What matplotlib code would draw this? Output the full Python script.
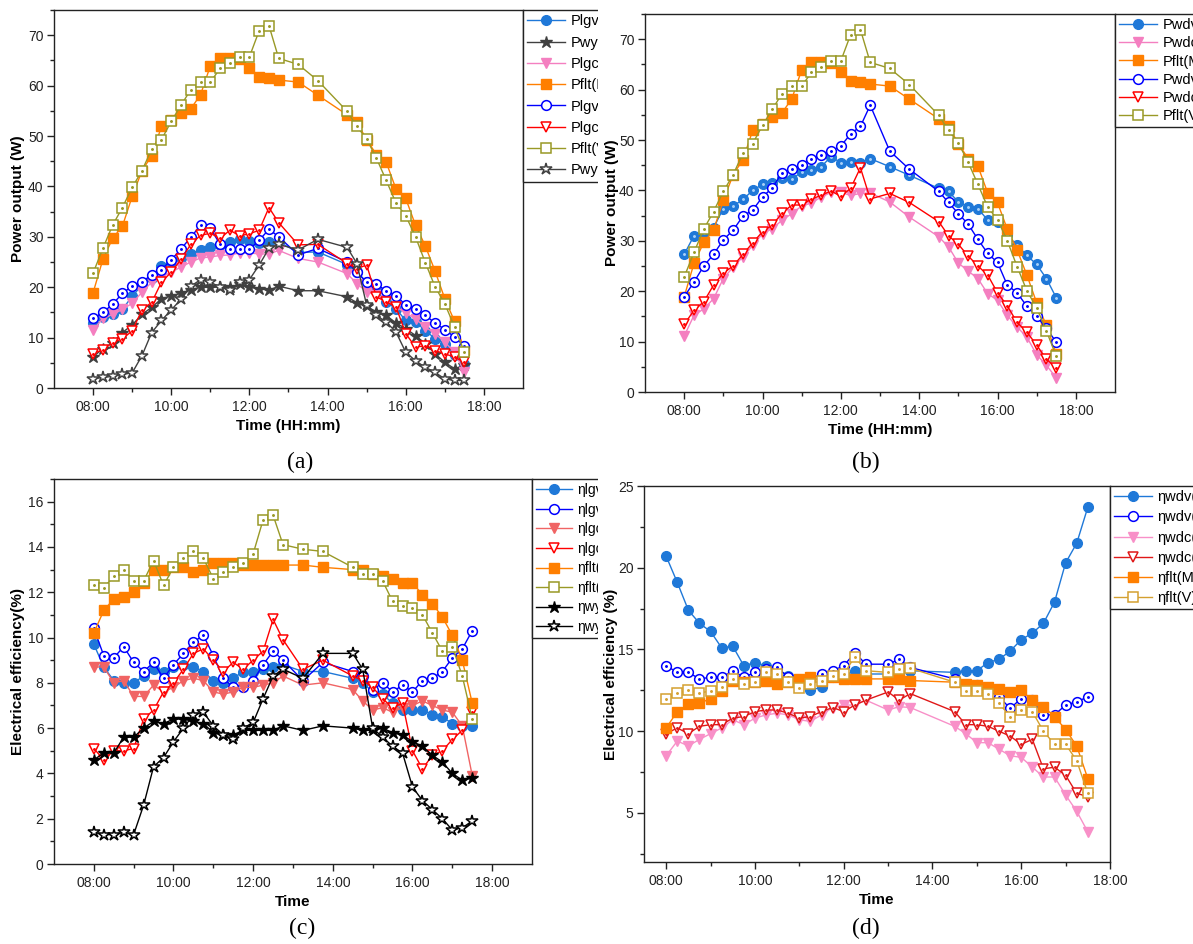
import numpy as np
import matplotlib
matplotlib.use('Agg')
import matplotlib.pyplot as plt
from matplotlib.ticker import MultipleLocator, FixedLocator, FuncFormatter
from matplotlib.patches import Rectangle

plt.rcParams['font.family'] = ['Liberation Sans', 'DejaVu Sans']

# Часові мітки вимірювань (a, b, c)
times_abc = ["08:00", "08:15", "08:30", "08:45", "09:00", "09:15", "09:30", "09:45",
             "10:00", "10:15", "10:30", "10:45", "11:00", "11:15", "11:30", "11:45",
             "12:00", "12:15", "12:30", "12:45", "13:15", "13:45",
             "14:30", "14:45", "15:00", "15:15", "15:30", "15:45", "16:00", "16:15",
             "16:30", "16:45", "17:00", "17:15", "17:30"]
# Часові мітки для (d)
times_d = ["08:00", "08:15", "08:30", "08:45", "09:00", "09:15", "09:30", "09:45",
           "10:00", "10:15", "10:30", "10:45", "11:00", "11:15", "11:30", "11:45",
           "12:00", "12:15", "12:30", "13:00", "13:15", "13:30",
           "14:30", "14:45", "15:00", "15:15", "15:30", "15:45", "16:00", "16:15",
           "16:30", "16:45", "17:00", "17:15", "17:30"]

# (a) потужність, Вт
plgv_m = [12.8, 14.0, 14.7, 15.6, 18.2, 20.4, 21.8, 24.2, 25.0, 25.8, 26.5, 27.3, 28.0, 28.3, 28.9, 29.5,
          29.2, 28.7, 29.0, 29.0, 26.9, 27.0, 24.5, 23.0, 21.0, 19.4, 17.1, 15.7, 13.4, 13.1, 11.4, 9.8,
          8.8, 6.6, 4.8]
pwy_m = [6.2, 7.8, 9.0, 11.0, 12.5, 14.6, 16.0, 17.7, 18.3, 18.8, 19.5, 20.0, 20.0, 20.0, 20.0, 20.6,
         20.0, 19.7, 19.4, 20.2, 19.3, 19.3, 18.1, 16.9, 16.2, 15.1, 14.4, 12.9, 11.8, 10.4, 8.8, 6.8,
         5.1, 3.8, 4.5]
plgc_m = [11.5, 13.8, 14.6, 15.6, 16.8, 19.0, 21.0, 22.0, 23.0, 24.0, 25.0, 25.8, 26.0, 26.3, 26.4, 26.8,
          26.8, 26.6, 26.6, 27.3, 25.7, 25.0, 22.7, 20.7, 19.1, 18.4, 17.4, 16.1, 14.9, 13.7, 12.1, 10.8,
          9.1, 7.1, 3.1]
pflt_m = [18.9, 25.5, 29.7, 32.1, 38.0, 43.1, 46.1, 51.9, 53.1, 54.6, 55.4, 58.2, 63.9, 65.5, 65.5, 65.3,
          63.4, 61.7, 61.5, 61.1, 60.7, 58.1, 54.2, 52.7, 49.3, 46.3, 44.8, 39.5, 37.6, 32.3, 28.2, 23.2,
          17.7, 13.2, 7.6]
plgv_v = [13.8, 15.0, 16.6, 18.8, 20.2, 21.0, 22.5, 23.5, 25.4, 27.6, 29.9, 32.3, 31.7, 28.5, 27.5, 27.5,
          27.5, 29.3, 31.5, 30.0, 26.4, 27.7, 25.0, 23.0, 21.0, 20.7, 19.2, 18.3, 16.5, 15.7, 14.4, 12.9,
          11.6, 10.1, 8.3]
plgc_v = [6.8, 7.6, 9.0, 9.8, 11.3, 15.5, 17.0, 21.0, 23.0, 25.5, 28.5, 30.3, 30.7, 29.7, 31.3, 30.2,
          30.6, 31.3, 35.8, 32.8, 28.4, 28.5, 24.7, 23.7, 24.4, 18.1, 17.1, 16.1, 10.8, 8.1, 8.4, 7.4,
          6.8, 6.1, 5.1]
pflt_v = [22.8, 27.7, 32.3, 35.8, 39.8, 43.1, 47.4, 49.3, 52.9, 56.1, 59.2, 60.7, 60.7, 63.4, 64.4, 65.7,
          65.7, 70.9, 71.9, 65.4, 64.2, 61.0, 54.9, 51.9, 49.4, 45.6, 41.2, 36.7, 34.2, 30.0, 24.9, 20.1,
          16.7, 12.1, 7.1]
pwy_v = [1.8, 2.1, 2.3, 2.7, 3.0, 6.4, 11.0, 13.4, 15.5, 17.6, 20.2, 21.5, 21.0, 20.0, 19.5, 21.0,
         21.5, 24.4, 27.7, 28.5, 27.4, 29.5, 27.9, 24.7, 16.4, 14.4, 13.1, 11.1, 7.1, 5.4, 4.1, 3.1,
         1.8, 1.5, 1.5]

# (b) потужність, Вт
pwdv_m = [27.3, 31.0, 31.6, 32.6, 36.4, 36.9, 38.2, 40.0, 41.2, 41.4, 42.4, 42.2, 43.7, 44.0, 44.7, 46.7,
          45.5, 45.7, 45.5, 46.3, 44.7, 43.0, 40.4, 39.8, 37.7, 36.7, 36.4, 34.1, 33.8, 31.1, 29.1, 27.1,
          25.3, 22.5, 18.7]
pwdc_m = [11.1, 15.2, 16.5, 18.5, 22.5, 24.8, 26.8, 29.1, 31.4, 32.4, 34.1, 35.4, 36.9, 37.5, 38.7, 39.6,
          39.6, 39.0, 39.4, 39.5, 37.7, 34.7, 30.8, 28.8, 25.6, 24.0, 22.5, 19.5, 18.2, 15.2, 12.9, 10.9,
          7.4, 5.3, 2.8]
pwdv_v = [18.9, 21.8, 25.0, 27.3, 30.2, 32.1, 34.9, 36.1, 38.7, 40.5, 43.5, 44.3, 45.0, 46.2, 47.0, 47.8,
          48.8, 51.2, 52.7, 56.9, 47.8, 44.2, 39.8, 37.6, 35.4, 33.3, 30.3, 27.5, 25.7, 21.2, 19.7, 17.0,
          15.0, 12.6, 9.9]
pwdc_v = [13.4, 16.2, 17.9, 21.2, 23.6, 25.0, 27.3, 29.6, 31.8, 33.1, 35.5, 37.1, 37.1, 38.3, 39.0, 39.9,
          38.8, 40.4, 44.5, 38.3, 39.4, 37.6, 33.8, 31.0, 29.3, 27.0, 25.0, 23.2, 19.7, 17.1, 13.8, 11.9,
          9.3, 6.5, 4.8]

# (c) ККД, %
eta_lgv_m = [9.7, 8.7, 8.1, 8.0, 8.0, 8.3, 8.6, 8.5, 8.7, 8.8, 8.7, 8.5, 8.1, 8.0, 8.2, 8.5,
             8.5, 8.6, 8.7, 8.8, 8.5, 8.5, 8.2, 8.0, 7.6, 7.5, 7.1, 6.8, 6.8, 6.8, 6.6, 6.5,
             6.2, 6.1, 6.1]
eta_lgv_v = [10.4, 9.2, 9.1, 9.6, 8.9, 8.5, 8.9, 8.2, 8.8, 9.3, 9.8, 10.1, 9.2, 8.2, 7.8, 7.8,
             8.1, 8.8, 9.4, 9.0, 8.1, 8.9, 8.5, 8.3, 7.7, 8.0, 7.6, 7.9, 7.6, 8.1, 8.2, 8.5,
             9.1, 9.5, 10.3]
eta_lgc_m = [8.7, 8.7, 8.0, 8.1, 7.4, 7.4, 7.9, 7.6, 7.8, 8.1, 8.2, 8.1, 7.6, 7.5, 7.6, 7.8,
             7.8, 7.9, 8.0, 8.3, 7.9, 8.0, 7.7, 7.2, 6.8, 6.9, 6.7, 6.9, 7.0, 7.2, 7.0, 6.8,
             6.7, 6.1, 3.9]
eta_lgc_v = [5.1, 4.6, 5.0, 5.0, 5.1, 6.4, 6.8, 7.6, 8.0, 8.6, 9.3, 9.5, 9.0, 8.5, 8.9, 8.6,
             9.0, 9.4, 10.8, 9.9, 8.6, 9.0, 8.3, 8.1, 7.8, 7.3, 6.9, 7.1, 5.0, 4.2, 4.8, 5.0,
             5.5, 5.9, 6.7]
eta_flt_m = [10.2, 11.2, 11.7, 11.8, 12.0, 12.4, 13.0, 13.0, 13.1, 13.1, 12.9, 13.0, 13.3, 13.3, 13.3, 13.2,
             13.2, 13.2, 13.2, 13.2, 13.2, 13.1, 13.0, 13.0, 12.8, 12.7, 12.6, 12.4, 12.4, 11.9, 11.5, 10.9,
             10.1, 9.0, 7.1]
eta_flt_v = [12.3, 12.2, 12.7, 13.0, 12.5, 12.5, 13.4, 12.3, 13.1, 13.5, 13.8, 13.5, 12.6, 12.9, 13.1, 13.3,
             13.7, 15.2, 15.4, 14.1, 13.9, 13.8, 13.1, 12.8, 12.8, 12.5, 11.6, 11.4, 11.3, 11.0, 10.2, 9.4,
             9.6, 8.3, 6.4]
eta_wy_m = [4.6, 4.9, 4.9, 5.6, 5.6, 6.0, 6.3, 6.2, 6.4, 6.4, 6.3, 6.2, 5.8, 5.7, 5.7, 5.9,
            5.9, 5.9, 5.9, 6.1, 5.9, 6.1, 6.0, 5.9, 5.9, 6.0, 5.8, 5.7, 5.4, 5.2, 4.8, 4.5,
            4.0, 3.7, 3.8]
eta_wy_v = [1.4, 1.3, 1.3, 1.4, 1.3, 2.6, 4.3, 4.7, 5.4, 6.0, 6.6, 6.7, 6.1, 5.7, 5.5, 6.0,
            6.25, 7.3, 8.3, 8.6, 8.2, 9.3, 9.3, 8.6, 6.0, 5.6, 5.2, 4.9, 3.4, 2.8, 2.4, 2.0,
            1.5, 1.6, 1.9]

# (d) ККД, %
eta_wdv_m = [20.7, 19.1, 17.4, 16.6, 16.1, 15.1, 15.2, 14.0, 14.2, 14.0, 13.8, 13.4, 13.1, 12.5, 12.7, 13.3,
             13.4, 13.7, 13.5, 13.5, 13.6, 13.7, 13.6, 13.7, 13.7, 14.2, 14.4, 14.9, 15.6, 16.0, 16.6, 17.9,
             20.3, 21.5, 23.7]
eta_wdv_v = [14.0, 13.6, 13.6, 13.2, 13.3, 13.3, 13.7, 13.3, 13.6, 13.8, 13.9, 13.3, 13.1, 13.2, 13.5, 13.7,
             14.0, 14.8, 14.1, 14.1, 14.4, 13.9, 13.2, 12.8, 12.8, 12.5, 12.1, 11.4, 12.0, 11.9, 11.0, 11.0,
             11.6, 11.8, 12.1]
eta_wdc_m = [8.5, 9.4, 9.1, 9.5, 9.85, 10.2, 10.7, 10.4, 10.8, 11.0, 11.1, 11.0, 10.7, 10.6, 11.0, 11.45,
             11.6, 11.6, 11.9, 11.3, 11.5, 11.45, 10.3, 9.85, 9.3, 9.3, 8.9, 8.5, 8.4, 7.8, 7.2, 7.2,
             6.1, 5.1, 3.85]
eta_wdc_v = [9.85, 10.2, 9.85, 10.3, 10.4, 10.4, 10.8, 10.9, 11.2, 11.3, 11.3, 11.1, 10.8, 10.9, 11.2, 11.45,
             11.2, 11.6, 11.9, 12.4, 11.9, 12.3, 11.2, 10.4, 10.4, 10.3, 10.0, 9.7, 9.2, 9.5, 7.7, 7.8,
             7.3, 6.2, 6.0]
eta_flt_m_d = [10.2, 11.2, 11.65, 11.7, 12.0, 12.45, 13.1, 13.0, 13.0, 13.1, 12.9, 13.0, 13.2, 13.3, 13.1, 13.3,
               13.2, 13.2, 13.2, 13.2, 13.2, 13.1, 13.0, 12.9, 12.8, 12.7, 12.6, 12.4, 12.5, 11.9, 11.5, 10.9,
               10.1, 9.1, 7.1]
eta_flt_v_d = [12.0, 12.35, 12.5, 12.35, 12.45, 12.7, 13.2, 12.9, 13.0, 13.6, 13.5, 13.0, 12.65, 12.9, 13.1, 13.4,
               13.5, 14.55, 13.7, 13.6, 13.8, 13.85, 13.0, 12.45, 12.45, 12.3, 11.7, 10.9, 11.3, 11.2, 10.0, 9.2,
               9.2, 8.2, 6.2]


def to_hours(labels):
    """Перетворює 'HH:MM' у десяткові години"""
    return np.array([int(t[:2]) + int(t[3:]) / 60.0 for t in labels])


def draw(ax, x, y, color, marker, label, filled=True, ms=7, dot=None):
    if filled:
        ax.plot(x, y, color=color, marker=marker, ms=ms, mfc=color, mec=color, lw=1, label=label)
    else:
        ax.plot(x, y, color=color, marker=marker, ms=ms, mfc='white', mec=color, mew=1.1, lw=1,
                label=label)
    if dot is not None:
        ax.plot(x, y, ls='none', marker='.', ms=2.2, color=dot)


def style(ax, xlim, ylim, ymajor, yminor, ylabel, xlabel, ylpad=1):
    ax.set_xlim(*xlim)
    ax.set_ylim(*ylim)
    ax.xaxis.set_major_locator(FixedLocator([8, 10, 12, 14, 16, 18]))
    ax.xaxis.set_minor_locator(FixedLocator([9, 11, 13, 15, 17]))
    ax.xaxis.set_major_formatter(FuncFormatter(lambda v, p: '%02d:00' % int(round(v))))
    ax.yaxis.set_major_locator(MultipleLocator(ymajor))
    ax.yaxis.set_minor_locator(MultipleLocator(yminor))
    ax.tick_params(which='major', direction='out', length=5, width=1, labelsize=10,
                   colors='#222222', top=False, right=False)
    ax.tick_params(axis='y', which='major', pad=2.5)
    ax.tick_params(which='minor', direction='out', length=3, width=1, colors='#222222',
                   top=False, right=False)
    for s in ax.spines.values():
        s.set_color('#222222')
        s.set_linewidth(1.0)
    ax.set_ylabel(ylabel, fontsize=11, fontweight='bold', labelpad=ylpad)
    ax.set_xlabel(xlabel, fontsize=11, fontweight='bold', labelpad=4)


def legend(ax, fs, spacing):
    leg = ax.legend(loc='upper left', bbox_to_anchor=(1.0, 1.0), borderaxespad=0, frameon=True,
                    fancybox=False, edgecolor='#222222', framealpha=1, fontsize=fs, numpoints=1,
                    handlelength=2.6, handletextpad=0.35, labelspacing=spacing, borderpad=0.3)
    leg.get_frame().set_linewidth(1.0)
    return leg


W, H = 1193, 944
fig = plt.figure(figsize=(W / 100, H / 100), dpi=100)


def add_axes(l, t, r, b, z=0):
    return fig.add_axes([l / W, 1 - b / H, (r - l) / W, (b - t) / H], zorder=z)


ax_a = add_axes(54, 10, 523, 388)
ax_b = add_axes(645, 14, 1115, 392, z=1)
ax_c = add_axes(54, 479, 532, 864)
ax_d = add_axes(644, 486, 1110, 862, z=1)

# білий фон правої половини обрізає легенди (a) і (c)
fig.patches.append(Rectangle((598 / W, 0), 1 - 598 / W, 1, transform=fig.transFigure,
                             facecolor='white', edgecolor='none', zorder=0.5))

xa = to_hours(times_abc)
xd = to_hours(times_d)

# (a)
draw(ax_a, xa, plgv_m, '#1f78d8', 'o', 'Plgv(M)')
draw(ax_a, xa, pwy_m, '#404040', '*', 'Pwy(M)', ms=9)
draw(ax_a, xa, plgc_m, '#f47fc0', 'v', 'Plgc(M)')
draw(ax_a, xa, pflt_m, '#ff7f00', 's', 'Pflt(M)')
draw(ax_a, xa, plgv_v, '#0000ff', 'o', 'Plgv(V)', filled=False, dot='#0000ff')
draw(ax_a, xa, plgc_v, '#ff0000', 'v', 'Plgc(V)', filled=False, dot='#ff0000')
draw(ax_a, xa, pflt_v, '#999926', 's', 'Pflt(V)', filled=False, dot='#999926')
draw(ax_a, xa, pwy_v, '#404040', '*', 'Pwy(V)', filled=False, ms=9)
style(ax_a, (7, 19), (0, 75), 10, 5, 'Power output (W)', 'Time (HH:mm)', ylpad=2)
legend(ax_a, 10.5, 0.5)

# (b)
draw(ax_b, xa, pwdv_m, '#1f78d8', 'o', 'Pwdv(M)', dot='#a8d0f8')
draw(ax_b, xa, pwdc_m, '#f47fc0', 'v', 'Pwdc(M)')
draw(ax_b, xa, pflt_m, '#ff7f00', 's', 'Pflt(M)')
draw(ax_b, xa, pwdv_v, '#0000ff', 'o', 'Pwdv(V)', filled=False, dot='#0000ff')
draw(ax_b, xa, pwdc_v, '#ff0000', 'v', 'Pwdc(V)', filled=False, dot='#ff0000')
draw(ax_b, xa, pflt_v, '#999926', 's', 'Pflt(V)', filled=False, dot='#999926')
style(ax_b, (7, 19), (0, 75), 10, 5, 'Power output (W)', 'Time (HH:mm)', ylpad=0)
legend(ax_b, 10.5, 0.28)

# (c)
draw(ax_c, xa, eta_lgv_m, '#1f78d8', 'o', 'ηlgv(M)')
draw(ax_c, xa, eta_lgv_v, '#0000ff', 'o', 'ηlgv(V)', filled=False, dot='#0000ff')
draw(ax_c, xa, eta_lgc_m, '#f06464', 'v', 'ηlgc(M)')
draw(ax_c, xa, eta_lgc_v, '#ff0000', 'v', 'ηlgc(V)', filled=False, dot='#ff0000')
draw(ax_c, xa, eta_flt_m, '#ff7f00', 's', 'ηflt(M)')
draw(ax_c, xa, eta_flt_v, '#999926', 's', 'ηflt(V)', filled=False, dot='#999926')
draw(ax_c, xa, eta_wy_m, '#000000', '*', 'ηwy(M)', ms=9)
draw(ax_c, xa, eta_wy_v, '#000000', '*', 'ηwy(V)', filled=False, ms=9)
style(ax_c, (7, 19), (0, 17), 2, 1, 'Electrical efficiency(%)', 'Time', ylpad=2)
legend(ax_c, 10, 0.4)

# (d)
draw(ax_d, xd, eta_wdv_m, '#1f78d8', 'o', 'ηwdv(M)')
draw(ax_d, xd, eta_wdv_v, '#0000ff', 'o', 'ηwdv(V)', filled=False, dot='#0000ff')
draw(ax_d, xd, eta_wdc_m, '#f890c8', 'v', 'ηwdc(M)')
draw(ax_d, xd, eta_wdc_v, '#e01818', 'v', 'ηwdc(V)', filled=False, dot='#e01818')
draw(ax_d, xd, eta_flt_m_d, '#ff7f00', 's', 'ηflt(M)')
draw(ax_d, xd, eta_flt_v_d, '#d4a030', 's', 'ηflt(V)', filled=False, dot='#d4a030')
style(ax_d, (7.5, 18), (2, 25), 5, 2.5, 'Electrical efficiency (%)', 'Time', ylpad=0)
legend(ax_d, 10.5, 0.42)

# підписи панелей
for txt, px, py in [('(a)', 300, 462), ('(b)', 866, 462), ('(c)', 302, 928), ('(d)', 866, 928)]:
    fig.text(px / W, 1 - py / H, txt, ha='center', va='center', fontsize=17,
             family=['Liberation Serif', 'DejaVu Serif'], zorder=5)

fig.savefig('out.png', dpi=100)
